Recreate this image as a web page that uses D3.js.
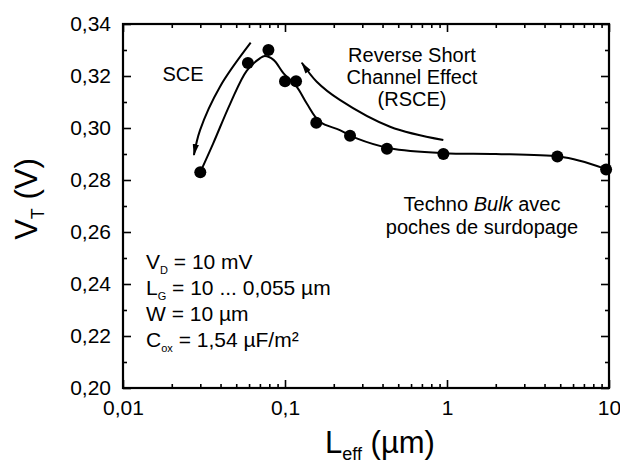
<!DOCTYPE html>
<html>
<head>
<meta charset="utf-8">
<script src="https://cdn.jsdelivr.net/npm/d3@7"></script>
<style>
  body { margin: 0; background: #fff; }
  text { font-family: "Liberation Sans", Arial, sans-serif; fill: #000; }
</style>
</head>
<body>
<div id="chart"></div>
<script>
// measured points: L_eff (µm) and V_T (V)
const leff = [0.03, 0.059, 0.079, 0.1, 0.117, 0.156, 0.252, 0.426, 0.95, 4.8, 9.6];
const vt   = [0.283, 0.325, 0.330, 0.318, 0.318, 0.302, 0.297, 0.292, 0.290, 0.289, 0.284];

// fitted curve
const fitX = [0.03, 0.036, 0.046, 0.058, 0.070, 0.075, 0.085, 0.098, 0.118, 0.136, 0.164, 0.218, 0.277, 0.445, 0.95, 2.0, 4.9, 6.6, 9.7];
const fitY = [0.283, 0.294, 0.3095, 0.322, 0.3268, 0.3277, 0.3262, 0.321, 0.3159, 0.3095, 0.3024, 0.2992, 0.296, 0.2922, 0.2903, 0.290, 0.289, 0.2874, 0.2841];

// annotation arrows (data coords)
const sceArrowX = [0.0614, 0.0397, 0.0299, 0.0274];
const sceArrowY = [0.3328, 0.3159, 0.2992, 0.2896];
const rsceArrowX = [0.949, 0.445, 0.218, 0.157, 0.127];
const rsceArrowY = [0.2954, 0.3005, 0.3108, 0.3178, 0.3251];

const xTicks = [0.01, 0.1, 1, 10];
const xTickLabels = ["0,01", "0,1", "1", "10"];
const yTicks = [0.20, 0.22, 0.24, 0.26, 0.28, 0.30, 0.32, 0.34];

const W = 620, H = 463;
const mLeft = 123, mRight = 609, mTop = 24, mBottom = 388;

const svg = d3.select("#chart").append("svg")
  .attr("width", W).attr("height", H);

const x = d3.scaleLog().domain([0.01, 10]).range([mLeft, mRight]);
const y = d3.scaleLinear().domain([0.20, 0.34]).range([mBottom, mTop]);

// minor ticks
const xMinor = [];
[0.01, 0.1, 1].forEach(d => { for (let k = 2; k <= 9; k++) xMinor.push(d * k); });
const yMinor = d3.range(0.21, 0.34, 0.02);

const fmtY = d => d3.format(".2f")(d).replace(".", ",");

// bottom axis
svg.append("g")
  .attr("transform", `translate(0,${mBottom})`)
  .call(d3.axisBottom(x).tickValues(xTicks).tickSize(-8).tickPadding(12)
    .tickFormat((d, i) => xTickLabels[i]))
  .call(g => g.select(".domain").remove())
  .call(g => g.selectAll("text").style("font-size", "21px")
    .attr("font-family", null));
svg.append("g")
  .attr("transform", `translate(0,${mBottom})`)
  .call(d3.axisBottom(x).tickValues(xMinor).tickSize(-4).tickFormat(""))
  .call(g => g.select(".domain").remove());

// top axis
svg.append("g")
  .attr("transform", `translate(0,${mTop})`)
  .call(d3.axisTop(x).tickValues(xTicks).tickSize(-8).tickFormat(""))
  .call(g => g.select(".domain").remove());
svg.append("g")
  .attr("transform", `translate(0,${mTop})`)
  .call(d3.axisTop(x).tickValues(xMinor).tickSize(-4).tickFormat(""))
  .call(g => g.select(".domain").remove());

// left axis
svg.append("g")
  .attr("transform", `translate(${mLeft},0)`)
  .call(d3.axisLeft(y).tickValues(yTicks).tickSize(-8).tickPadding(12).tickFormat(fmtY))
  .call(g => g.select(".domain").remove())
  .call(g => g.selectAll("text").style("font-size", "21px")
    .attr("font-family", null));
svg.append("g")
  .attr("transform", `translate(${mLeft},0)`)
  .call(d3.axisLeft(y).tickValues(yMinor).tickSize(-4).tickFormat(""))
  .call(g => g.select(".domain").remove());

// right axis
svg.append("g")
  .attr("transform", `translate(${mRight},0)`)
  .call(d3.axisRight(y).tickValues(yTicks).tickSize(-8).tickFormat(""))
  .call(g => g.select(".domain").remove());
svg.append("g")
  .attr("transform", `translate(${mRight},0)`)
  .call(d3.axisRight(y).tickValues(yMinor).tickSize(-4).tickFormat(""))
  .call(g => g.select(".domain").remove());

svg.selectAll(".tick line").attr("stroke", "#000").attr("stroke-width", 1.6);

// frame
svg.append("rect")
  .attr("x", mLeft).attr("y", mTop)
  .attr("width", mRight - mLeft).attr("height", mBottom - mTop)
  .attr("fill", "none").attr("stroke", "#000").attr("stroke-width", 2.2);

// axis titles
const xt = svg.append("text")
  .attr("x", 380).attr("y", 453)
  .attr("text-anchor", "middle")
  .style("font-size", "31px");
xt.append("tspan").text("L");
xt.append("tspan").attr("dy", 7).style("font-size", "18px").text("eff");
xt.append("tspan").attr("dy", -7).text(" (µm)");

const yt = svg.append("text")
  .attr("transform", "translate(37,199) rotate(-90)")
  .attr("text-anchor", "middle")
  .style("font-size", "31px");
yt.append("tspan").text("V");
yt.append("tspan").attr("dy", 7).style("font-size", "18px").text("T");
yt.append("tspan").attr("dy", -7).text(" (V)");

// arrow marker
svg.append("defs").append("marker")
  .attr("id", "head")
  .attr("viewBox", "0 -5 12 10")
  .attr("refX", 11).attr("refY", 0)
  .attr("markerWidth", 12).attr("markerHeight", 10)
  .attr("markerUnits", "userSpaceOnUse")
  .attr("orient", "auto")
  .append("path")
  .attr("d", "M0,-3.2L12,0L0,3.2Z")
  .attr("fill", "#000");

const smooth = d3.line().curve(d3.curveCatmullRom)
  .x(d => x(d[0])).y(d => y(d[1]));

svg.append("path")
  .attr("d", smooth(d3.zip(sceArrowX, sceArrowY)))
  .attr("fill", "none").attr("stroke", "#000").attr("stroke-width", 2)
  .attr("marker-end", "url(#head)");
svg.append("path")
  .attr("d", smooth(d3.zip(rsceArrowX, rsceArrowY)))
  .attr("fill", "none").attr("stroke", "#000").attr("stroke-width", 2)
  .attr("marker-end", "url(#head)");

// fitted curve
svg.append("path")
  .attr("d", smooth(d3.zip(fitX, fitY)))
  .attr("fill", "none").attr("stroke", "#000").attr("stroke-width", 2);

// points
svg.selectAll(".pt")
  .data(d3.zip(leff, vt))
  .join("circle")
  .attr("class", "pt")
  .attr("cx", d => x(d[0])).attr("cy", d => y(d[1]))
  .attr("r", 6).attr("fill", "#000");

// annotations
svg.append("text").attr("x", 183).attr("y", 81)
  .attr("text-anchor", "middle").style("font-size", "20px").text("SCE");

const rs = svg.append("text").attr("text-anchor", "middle").style("font-size", "20px");
["Reverse Short", "Channel Effect", "(RSCE)"].forEach((t, i) => {
  rs.append("tspan").attr("x", 412).attr("y", 62 + i * 22).text(t);
});

const tb = svg.append("text").attr("text-anchor", "middle").style("font-size", "20px");
const l1 = tb.append("tspan").attr("x", 482).attr("y", 211);
l1.append("tspan").text("Techno ");
l1.append("tspan").style("font-style", "italic").text("Bulk");
l1.append("tspan").text(" avec");
tb.append("tspan").attr("x", 482).attr("y", 234).text("poches de surdopage");

// parameters
const params = [
  ["V", "D", " = 10 mV"],
  ["L", "G", " = 10 ... 0,055 µm"],
  ["W", "", " = 10 µm"],
  ["C", "ox", " = 1,54 µF/m²"]
];
params.forEach((p, i) => {
  const t = svg.append("text").attr("x", 146).attr("y", 269 + i * 26)
    .style("font-size", "21px");
  t.append("tspan").text(p[0]);
  if (p[1]) {
    t.append("tspan").attr("dy", 5).style("font-size", "11px").text(p[1]);
    t.append("tspan").attr("dy", -5).text(p[2]);
  } else {
    t.append("tspan").text(p[2]);
  }
});
</script>
</body>
</html>
